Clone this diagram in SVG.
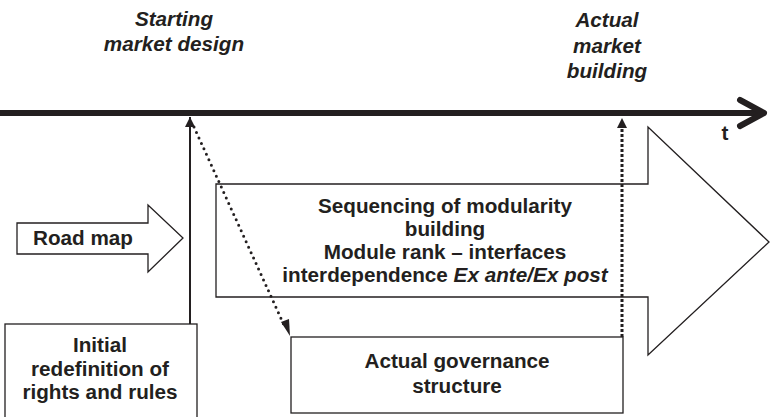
<svg xmlns="http://www.w3.org/2000/svg" width="770" height="417" viewBox="0 0 770 417">
  <style>
    .lbl { font-family: "Liberation Sans", Arial, sans-serif; font-size: 20.7px; font-weight: bold; fill: #231f20; text-anchor: middle; }
    .it { font-style: italic; }
    .box { fill: #ffffff; stroke: #231f20; stroke-width: 1.3; }
    .solid { stroke: #231f20; stroke-width: 2; fill: none; }
    .dots { stroke: #231f20; stroke-width: 3; stroke-dasharray: 0 6; stroke-linecap: round; fill: none; }
    .sqdots { stroke: #231f20; stroke-width: 3; stroke-dasharray: 3 2; fill: none; }
  </style>
  <defs>
    <marker id="tri" viewBox="0 0 10 10" refX="10" refY="5" markerWidth="10" markerHeight="10" markerUnits="userSpaceOnUse" orient="auto">
      <path d="M0,0 L10,5 L0,10 Z" fill="#231f20"/>
    </marker>
  </defs>

  <!-- time axis -->
  <g id="axis">
    <line x1="0" y1="113" x2="764" y2="113" stroke="#231f20" stroke-width="6"/>
    <polyline points="740,100 764,113 740,126" fill="none" stroke="#231f20" stroke-width="6" stroke-linecap="round" stroke-linejoin="round"/>
    <text class="lbl" x="725" y="140">t</text>
  </g>

  <g id="starting-label">
    <text class="lbl it" x="174" y="26">Starting</text>
    <text class="lbl it" x="174" y="51">market design</text>
  </g>

  <g id="actual-label">
    <text class="lbl it" x="607" y="27">Actual</text>
    <text class="lbl it" x="607" y="52.5">market</text>
    <text class="lbl it" x="607" y="78">building</text>
  </g>

  <!-- big sequencing arrow -->
  <g id="sequencing">
    <path class="box" d="M216,184 H648 V127 L769,242 L648,355 V297 H216 Z"/>
    <text class="lbl" x="445" y="213">Sequencing of modularity</text>
    <text class="lbl" x="445" y="236">building</text>
    <text class="lbl" x="445" y="259">Module rank – interfaces</text>
    <text class="lbl" x="445" y="282">interdependence <tspan class="it">Ex ante/Ex post</tspan></text>
  </g>

  <g id="road-map">
    <path class="box" d="M17,223 H148 V205 L183,238 L148,272 V254 H17 Z"/>
    <text class="lbl" x="83" y="245">Road map</text>
  </g>

  <g id="initial">
    <rect class="box" x="5" y="324" width="192" height="96"/>
    <text class="lbl" x="100" y="352">Initial</text>
    <text class="lbl" x="100" y="376">redefinition of</text>
    <text class="lbl" x="100" y="399">rights and rules</text>
  </g>

  <g id="governance">
    <rect class="box" x="291" y="337" width="332" height="76"/>
    <text class="lbl" x="457" y="368">Actual governance</text>
    <text class="lbl" x="457" y="393">structure</text>
  </g>

  <!-- connectors -->
  <g id="connectors">
    <line class="solid" x1="190" y1="324" x2="190" y2="117" marker-end="url(#tri)"/>
    <line class="dots" x1="194" y1="127" x2="284" y2="325"/>
    <path d="M281,322 L290,336 L289,319 Z" fill="#231f20"/>
    <line class="sqdots" x1="622" y1="337" x2="622" y2="126"/>
    <path d="M617,128 L622,118 L627,128 Z" fill="#231f20"/>
  </g>
</svg>
